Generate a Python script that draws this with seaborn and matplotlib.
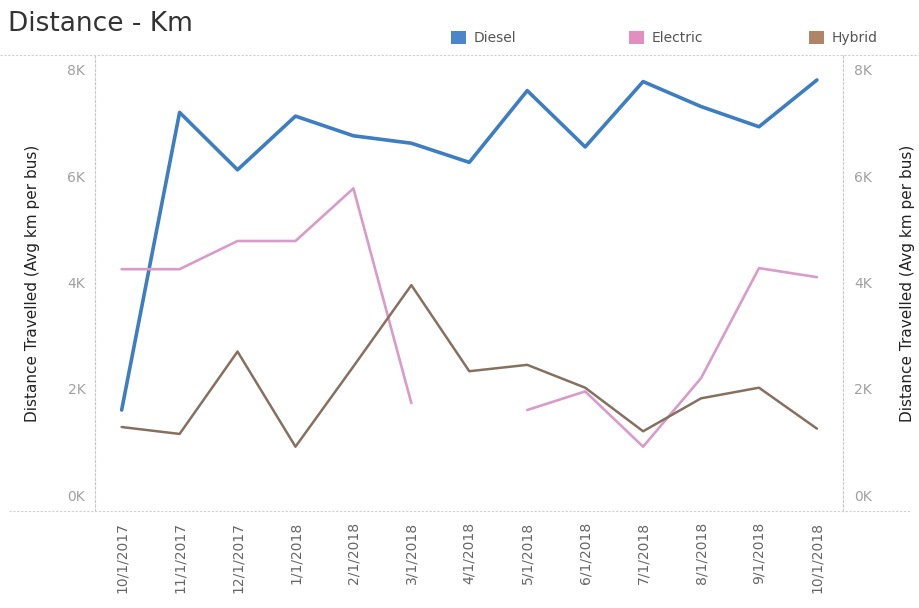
import numpy as np
import pandas as pd
import matplotlib
matplotlib.use("Agg")
import matplotlib.pyplot as plt
from matplotlib.patches import Patch
from matplotlib.lines import Line2D
import seaborn as sns

months = ["10/1/2017", "11/1/2017", "12/1/2017", "1/1/2018", "2/1/2018", "3/1/2018",
          "4/1/2018", "5/1/2018", "6/1/2018", "7/1/2018", "8/1/2018", "9/1/2018", "10/1/2018"]
diesel = [1600, 7200, 6120, 7130, 6760, 6620, 6260, 7610, 6550, 7780, 7310, 6930, 7810]
electric = [4250, 4250, 4780, 4780, 5770, 1730, np.nan, 1600, 1950, 910, 2200, 4270, 4100]
hybrid = [1280, 1150, 2700, 910, 2420, 3950, 2330, 2450, 2020, 1200, 1820, 2020, 1250]
series_names = ["Diesel", "Electric", "Hybrid"]
colors = {"Diesel": "#3d7dc2", "Electric": "#d99bc8", "Hybrid": "#86705f"}
legend_colors = {"Diesel": "#4a86c8", "Electric": "#e08fc0", "Hybrid": "#b08466"}
yticks = [0, 2000, 4000, 6000, 8000]
ytick_labels = ["0K", "2K", "4K", "6K", "8K"]

rows = []
for name, vals in zip(series_names, [diesel, electric, hybrid]):
    seg = 0
    for i, v in enumerate(vals):
        if np.isnan(v):
            seg += 1
            continue
        rows.append({"idx": i, "value": v, "fuel": name, "seg": f"{name}-{seg}"})
df = pd.DataFrame(rows)

sns.set_style("white")
fig = plt.figure(figsize=(9.2, 6.08), dpi=100)
ax = fig.add_axes([95 / 920, 1 - 511 / 608, (843 - 95) / 920, (511 - 55) / 608])

sns.lineplot(data=df, x="idx", y="value", hue="fuel", units="seg", estimator=None,
             size="fuel", sizes={"Diesel": 2.6, "Electric": 1.9, "Hybrid": 1.8},
             palette=colors, ax=ax, legend=False, sort=True)

ax.set_xlim(-0.46, 12.45)
ax.set_ylim(-300, 8280)
ax.set_xticks(range(len(months)))
ax.set_xticklabels(months, rotation=90, fontsize=10, color="#666666")
ax.set_yticks(yticks)
ax.set_yticklabels(ytick_labels, fontsize=10, color="#a0a0a0")
ax.tick_params(axis="both", length=0)
ax.tick_params(axis="x", pad=8)
ax.tick_params(axis="y", pad=7)
ax.set_xlabel("")
ax.set_ylabel("Distance Travelled (Avg km per bus)", fontsize=11, color="#222222", labelpad=20)

ax2 = ax.twinx()
ax2.set_ylim(ax.get_ylim())
ax2.set_yticks(yticks)
ax2.set_yticklabels(ytick_labels, fontsize=10, color="#a0a0a0")
ax2.tick_params(axis="y", length=0, pad=8)
ax2.set_ylabel("Distance Travelled (Avg km per bus)", fontsize=11, color="#222222", labelpad=20)

for a in (ax, ax2):
    for s in ["top", "bottom"]:
        a.spines[s].set_visible(False)
    for s in ["left", "right"]:
        a.spines[s].set_color("#c8c8c8")
        a.spines[s].set_linestyle((0, (2, 2)))
        a.spines[s].set_linewidth(0.8)
ax2.spines["left"].set_visible(False)
ax.spines["right"].set_visible(False)

# horizontal separators
fig.add_artist(Line2D([0.0, 1.0], [1 - 55 / 608, 1 - 55 / 608], color="#d0d0d0",
                      linewidth=0.8, linestyle=(0, (2, 1.5)), transform=fig.transFigure))
fig.add_artist(Line2D([0.01, 0.99], [1 - 511 / 608, 1 - 511 / 608], color="#d0d0d0",
                      linewidth=0.8, linestyle=(0, (2, 1.5)), transform=fig.transFigure))

fig.text(8 / 920, 1 - 24 / 608, "Distance - Km", fontsize=19, color="#333333",
         va="center", ha="left")

legend_x = {"Diesel": 444, "Electric": 622, "Hybrid": 802}
for name in series_names:
    fig.legend(handles=[Patch(facecolor=legend_colors[name], edgecolor="none", label=name)],
               loc="center left", bbox_to_anchor=(legend_x[name] / 920, 1 - 38 / 608),
               frameon=False, fontsize=10, handlelength=1.1, handleheight=1.1,
               handletextpad=0.5, borderpad=0, labelcolor="#555555")

fig.savefig("out.png", dpi=100)
